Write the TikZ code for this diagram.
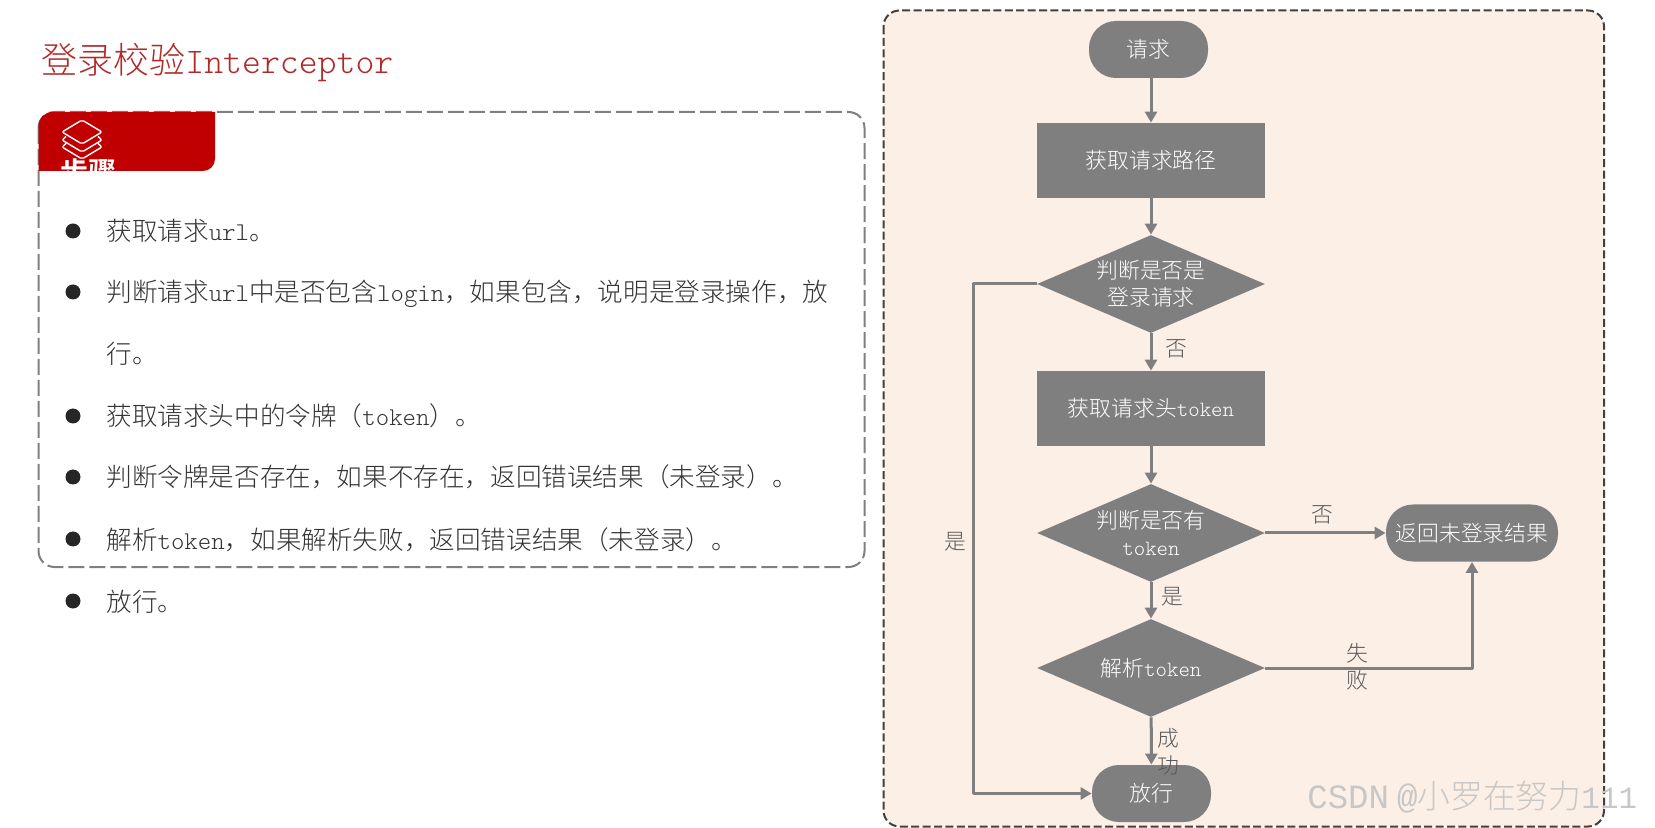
\documentclass[tikz,border=0pt]{standalone}
\usepackage{fontspec}
\setmainfont[UprightFont=* Light]{Noto Sans CJK SC}
\setmonofont{Latin Modern Mono Light}
\newfontfamily\markfont{Liberation Mono}
\usetikzlibrary{arrows.meta,shapes.geometric}
\definecolor{stepred}{HTML}{C00000}
\definecolor{titlered}{HTML}{B02A2A}
\definecolor{flowgray}{HTML}{7F7F7F}
\definecolor{panelbg}{HTML}{FCEFE6}
\definecolor{itemtext}{HTML}{333333}
\newcommand{\lat}[1]{{\ttfamily #1}}
\tikzset{
	flowtext/.style={font=\fontsize{10.9}{13.7}\selectfont, text=white, align=center, inner sep=0pt},
	boxnode/.style={flowtext, rectangle, fill=flowgray, minimum width=114pt, minimum height=37.5pt},
	pillnode/.style={flowtext, rectangle, fill=flowgray, rounded corners=13.5pt, minimum height=28.5pt},
	decnode/.style={flowtext, diamond, fill=flowgray, aspect=2.3, minimum width=114pt, minimum height=49pt},
	edgelabel/.style={font=\fontsize{10.9}{13.6}\selectfont, text=black!65, align=center, inner sep=0pt},
	itemdot/.style={circle, fill=black!85, inner sep=0pt, minimum size=7.5pt},
	itemline/.style={anchor=west, font=\fontsize{12.8}{15}\selectfont, text=itemtext, inner sep=0pt, text height=10pt, text depth=2pt},
	flowline/.style={draw=flowgray, line width=1.5pt}
}
\begin{document}
\begin{tikzpicture}[x=0.5pt, y=-0.5pt, line join=round, >={Triangle[length=5.5pt,width=6pt]}]
	\useasboundingbox (0,0) rectangle (1655,828);
	% right panel
	\draw[fill=panelbg, draw=black!75, line width=1pt, rounded corners=8pt, dash pattern=on 4pt off 1.7pt] (883.5,10.5) rectangle (1604,826.5);
	% left box
	\draw[draw=flowgray, line width=1pt, rounded corners=8pt, dash pattern=on 8pt off 2.5pt] (38.5,112) rectangle (864.5,567);
	\begin{scope}
		\clip (38.5,171) [rounded corners=7pt] -- (38.5,112) [sharp corners] -- (215,112) [rounded corners=6pt] -- (215,171) [sharp corners] -- cycle;
		\fill[stepred] (30,100) rectangle (225,180);
		\node[text=white, inner sep=0pt, font=\fontsize{14}{16}\selectfont\bfseries] (stepname) at (88,172) {步骤};
	\end{scope}
	\draw[white, line width=0.7pt, rounded corners=1pt] (62,132)--(82,120)--(102,132)--(82,144)--cycle;
	\draw[white, line width=0.7pt, rounded corners=1pt] (66,136.5)--(62,140)--(82,152)--(102,140)--(98,136.5);
	\draw[white, line width=0.7pt, rounded corners=1pt] (66,143.5)--(62,147)--(82,159)--(102,147)--(98,143.5);
	\node[anchor=west, inner sep=0pt, text=titlered, font=\fontsize{18}{20}\selectfont] (title) at (41,63) {登录校验\lat{Interceptor}};
	% list
	\node[itemdot] (dotA) at (73,231) {};
	\node[itemline] (itemA) at (106,233) {获取请求\lat{url}。};
	\node[itemdot] (dotB) at (73,292) {};
	\node[itemline] (itemB) at (106,294) {判断请求\lat{url}中是否包含\lat{login}，如果包含，说明是登录操作，放};
	\node[itemline] (itemBb) at (106,356) {行。};
	\node[itemdot] (dotC) at (73,416) {};
	\node[itemline] (itemC) at (106,418) {获取请求头中的令牌（\lat{token}）。};
	\node[itemdot] (dotD) at (73,477) {};
	\node[itemline] (itemD) at (106,479) {判断令牌是否存在，如果不存在，返回错误结果（未登录）。};
	\node[itemdot] (dotE) at (73,539) {};
	\node[itemline] (itemE) at (106,541) {解析\lat{token}，如果解析失败，返回错误结果（未登录）。};
	\node[itemdot] (dotF) at (73,601) {};
	\node[itemline] (itemF) at (106,603) {放行。};
	% flow chart
	\node[pillnode, minimum width=59.5pt] (request) at (1148.5,49.5) {请求};
	\node[boxnode] (getpath) at (1151,160.5) {获取请求路径};
	\node[decnode] (islogin) at (1151,284) {判断是否是\\登录请求};
	\node[boxnode] (gettoken) at (1151,408.5) {获取请求头\lat{token}};
	\node[decnode] (hastoken) at (1151,533) {判断是否有\\\lat{token}};
	\node[decnode] (parse) at (1151,668) {解析\lat{token}};
	\node[pillnode, minimum width=59.5pt] (pass) at (1151.5,793.5) {放行};
	\node[pillnode, minimum width=86pt] (notlogin) at (1472,533) {返回未登录结果};
	\draw[flowline, ->] (request.south -| getpath.north) -- (getpath.north);
	\draw[flowline, ->] (getpath) -- (islogin);
	\draw[flowline, ->] (islogin) -- (gettoken);
	\draw[flowline, ->] (gettoken) -- (hastoken);
	\draw[flowline, ->] (hastoken) -- (parse);
	\draw[flowline, ->] (parse) -- (pass);
	\draw[flowline, ->] (hastoken) -- (notlogin);
	\draw[flowline, ->] (parse) -| (notlogin);
	\draw[flowline, ->] (islogin.west) -- (973,284) |- (pass.west);
	\node[edgelabel] (lblA) at (1176,349) {否};
	\node[edgelabel] (lblB) at (955,542) {是};
	\node[edgelabel] (lblC) at (1322.5,515) {否};
	\node[edgelabel] (lblD) at (1172.5,597) {是};
	\node[edgelabel] (lblE) at (1357,667) {失\\败};
	\node[edgelabel] (lblF) at (1168.5,752) {成\\功};
	\node[anchor=west, inner sep=0pt, text=black!22, font=\fontsize{16.4}{18}\selectfont] (mark) at (1307,797) {{\fontsize{17}{18}\selectfont\markfont CSDN\hspace{4pt}@}小罗在努力{\fontsize{15.5}{18}\selectfont\markfont 111}};
\end{tikzpicture}
\end{document}
